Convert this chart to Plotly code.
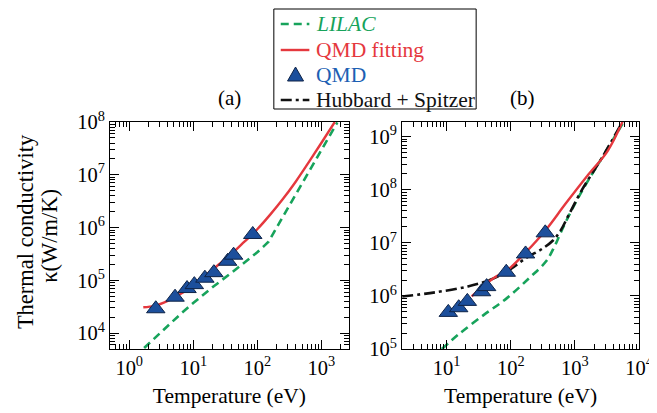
import plotly.graph_objects as go

# ---------------- data ----------------
# Panel (a)
qmd_a_T = [2.6, 5.2, 8.0, 10.4, 15.2, 21, 34.5, 42.7, 85]
qmd_a_K = [2.9e4, 4.8e4, 7.0e4, 8.3e4, 1.1e5, 1.4e5, 2.3e5, 3.0e5, 7.4e5]

fit_a_T = [1.66, 2.5, 4, 6.3, 10, 15.8, 25, 40, 63, 100, 158, 251, 398, 631, 1000, 1622]
fit_a_K = [3.1e4, 3.3e4, 4.1e4, 5.5e4, 8.1e4, 1.26e5, 2.0e5, 3.2e5, 5.4e5, 9.3e5,
           1.74e6, 3.47e6, 7.4e6, 1.7e7, 4.0e7, 1.0e8]

lilac_a_T = [1.71, 3.16, 6.31, 10, 19.95, 39.8, 63.1, 100, 125.9, 150, 316, 631, 1259, 1778]
lilac_a_K = [5.25e3, 1.07e4, 2.29e4, 3.72e4, 7.4e4, 1.4e5, 2.15e5, 3.4e5, 4.4e5,
             5.4e5, 2.6e6, 1.1e7, 4.6e7, 9.8e7]

# Panel (b)
qmd_b_T = [10.6, 15.4, 21, 35, 42, 85, 170, 345]
qmd_b_K = [4.9e5, 6.0e5, 7.9e5, 1.2e6, 1.5e6, 2.8e6, 6.2e6, 1.55e7]

fit_b_T = [24.5, 55, 87, 174, 355, 708, 1622, 3236, 5500]
fit_b_K = [9.8e5, 2.2e6, 3.0e6, 6.8e6, 1.78e7, 5.4e7, 1.95e8, 5.4e8, 1.9e9]

lilac_b_T = [8.4, 15.1, 38, 87, 195, 355, 479, 603, 794, 1288, 2570, 5750]
lilac_b_K = [1.0e5, 1.86e5, 4.4e5, 9.1e5, 2.19e6, 4.5e6, 8.5e6, 1.58e7, 3.16e7, 9.5e7, 3.8e8, 1.9e9]

hs_b_T = [2.02, 6.6, 21.4, 49, 87, 174, 316, 450, 603, 794, 1288, 2570, 5500]
hs_b_K = [9.8e5, 1.17e6, 1.51e6, 2.04e6, 2.9e6, 5.2e6, 7.9e6, 1.1e7, 1.74e7,
          3.3e7, 1.0e8, 3.8e8, 1.9e9]

# tick labels
xa_tickvals = [1, 10, 100, 1000]
xa_ticktext = ["10<sup>0</sup>", "10<sup>1</sup>", "10<sup>2</sup>", "10<sup>3</sup>"]
xb_tickvals = [10, 100, 1000, 10000]
xb_ticktext = ["10<sup>1</sup>", "10<sup>2</sup>", "10<sup>3</sup>", "10<sup>4</sup>"]
ya_tickvals = [1e4, 1e5, 1e6, 1e7, 1e8]
ya_ticktext = ["10<sup>4</sup>", "10<sup>5</sup>", "10<sup>6</sup>", "10<sup>7</sup>", "10<sup>8</sup>"]
yb_tickvals = [1e5, 1e6, 1e7, 1e8, 1e9]
yb_ticktext = ["10<sup>5</sup>", "10<sup>6</sup>", "10<sup>7</sup>", "10<sup>8</sup>", "10<sup>9</sup>"]

legend_labels = ["<i>LILAC</i>", "QMD fitting", "QMD", "Hubbard + Spitzer"]

# ---------------- styles ----------------
FONT = "Liberation Serif, Times New Roman, Times, serif"
GREEN = "#17a35b"
RED = "#e5383e"
BLUE_FILL = "#1c4f9c"
BLUE_EDGE = "#0e2347"
BLUE_TEXT = "#1d5fb3"
BLACK = "#111111"

GREEN_DASH = "8px,5px"
BLACK_DASH = "11px,4px,3px,4px"
green_line = dict(color=GREEN, width=2.6, dash=GREEN_DASH)
red_line = dict(color=RED, width=2.4)
black_line = dict(color=BLACK, width=2.6, dash=BLACK_DASH)
tri_marker = dict(symbol="triangle-up", size=16, color=BLUE_FILL,
                  line=dict(color=BLUE_EDGE, width=1))

# layout geometry (pixels)
W, H = 657, 413
ML, MR, MT, MB = 102, 19, 114, 72
PW, PH = W - ML - MR, H - MT - MB


def px2x(px):
    return (px - ML) / PW


def py2y(py):
    return (H - MB - py) / PH


fig = go.Figure()

# panel (a)
fig.add_trace(go.Scatter(x=lilac_a_T, y=lilac_a_K, mode="lines", line=green_line,
                         line_shape="linear", showlegend=False, xaxis="x", yaxis="y"))
fig.add_trace(go.Scatter(x=fit_a_T, y=fit_a_K, mode="lines", line=red_line,
                         line_shape="spline", showlegend=False, xaxis="x", yaxis="y"))
fig.add_trace(go.Scatter(x=qmd_a_T, y=qmd_a_K, mode="markers", marker=tri_marker,
                         showlegend=False, xaxis="x", yaxis="y"))

# panel (b)
fig.add_trace(go.Scatter(x=lilac_b_T, y=lilac_b_K, mode="lines", line=green_line,
                         line_shape="spline", showlegend=False, xaxis="x2", yaxis="y2"))
fig.add_trace(go.Scatter(x=hs_b_T, y=hs_b_K, mode="lines", line=black_line,
                         line_shape="spline", showlegend=False, xaxis="x2", yaxis="y2"))
fig.add_trace(go.Scatter(x=fit_b_T, y=fit_b_K, mode="lines", line=red_line,
                         line_shape="spline", showlegend=False, xaxis="x2", yaxis="y2"))
fig.add_trace(go.Scatter(x=qmd_b_T, y=qmd_b_K, mode="markers", marker=tri_marker,
                         showlegend=False, xaxis="x2", yaxis="y2"))

axis_common = dict(
    type="log", showline=True, linecolor="black", linewidth=1, mirror="allticks",
    ticks="inside", ticklen=9, tickwidth=1, tickcolor="black", showgrid=False,
    zeroline=False, tickmode="array",
    tickfont=dict(family=FONT, size=20.5, color="black"),
    minor=dict(ticks="inside", ticklen=5, tickwidth=1, tickcolor="black",
               dtick="D1", showgrid=False),
)

# ---- hand-built legend box (entries styled like the traces) ----
leg_rows = [16, 42, 67, 92]
leg_colors = [GREEN, RED, BLUE_TEXT, BLACK]
shapes = [
    dict(type="rect", xref="paper", yref="paper", x0=px2x(268), x1=px2x(473),
         y0=py2y(101), y1=py2y(1), line=dict(color="black", width=1),
         fillcolor="white", layer="above"),
    dict(type="line", xref="paper", yref="paper", x0=px2x(275), x1=px2x(304),
         y0=py2y(leg_rows[0]), y1=py2y(leg_rows[0]),
         line=dict(color=GREEN, width=2.6, dash=GREEN_DASH)),
    dict(type="line", xref="paper", yref="paper", x0=px2x(275), x1=px2x(304),
         y0=py2y(leg_rows[1]), y1=py2y(leg_rows[1]),
         line=dict(color=RED, width=2.4)),
    dict(type="path", xref="paper", yref="paper", xsizemode="pixel",
         ysizemode="pixel", xanchor=px2x(290), yanchor=py2y(leg_rows[2]),
         path="M -8,-6 L 8,-6 L 0,8 Z", fillcolor=BLUE_FILL,
         line=dict(color=BLUE_EDGE, width=1)),
    dict(type="line", xref="paper", yref="paper", x0=px2x(275), x1=px2x(304),
         y0=py2y(leg_rows[3]), y1=py2y(leg_rows[3]),
         line=dict(color=BLACK, width=2.6, dash=BLACK_DASH)),
]

annotations = [
    dict(text="(a)", x=px2x(223), y=py2y(90), xref="paper", yref="paper",
         showarrow=False, font=dict(family=FONT, size=21), xanchor="center",
         yanchor="middle"),
    dict(text="(b)", x=px2x(520), y=py2y(90), xref="paper", yref="paper",
         showarrow=False, font=dict(family=FONT, size=21), xanchor="center",
         yanchor="middle"),
    dict(text="Thermal conductivity", x=px2x(16), y=py2y(224),
         xref="paper", yref="paper", showarrow=False, textangle=-90,
         font=dict(family=FONT, size=22.5), xanchor="center", yanchor="middle"),
    dict(text="κ(W/m/K)", x=px2x(40), y=py2y(228),
         xref="paper", yref="paper", showarrow=False, textangle=-90,
         font=dict(family=FONT, size=22.5), xanchor="center", yanchor="middle"),
]
for lab, col, row in zip(legend_labels, leg_colors, leg_rows):
    annotations.append(dict(text=lab, x=px2x(309), y=py2y(row), xref="paper",
                            yref="paper", showarrow=False, xanchor="left",
                            yanchor="middle",
                            font=dict(family=FONT, size=21.5, color=col)))

fig.update_layout(
    width=W, height=H,
    paper_bgcolor="white", plot_bgcolor="white",
    margin=dict(l=ML, r=MR, t=MT, b=MB),
    font=dict(family=FONT, size=20, color="black"),
    showlegend=False,
    xaxis=dict(axis_common, domain=[0, px2x(344)], range=[-0.3, 3.43], anchor="y",
               tickvals=xa_tickvals, ticktext=xa_ticktext,
               title=dict(text="Temperature (eV)", font=dict(family=FONT, size=21.5),
                          standoff=10)),
    yaxis=dict(axis_common, domain=[0, 1], range=[3.7, 8.0], anchor="x",
               tickvals=ya_tickvals, ticktext=ya_ticktext),
    xaxis2=dict(axis_common, domain=[px2x(398), 1], range=[0.305, 4.0], anchor="y2",
                tickvals=xb_tickvals, ticktext=xb_ticktext,
                ticklabeloverflow="allow",
                title=dict(text="Temperature (eV)", font=dict(family=FONT, size=21.5),
                           standoff=10)),
    yaxis2=dict(axis_common, domain=[0, 1], range=[5.0, 9.28], anchor="x2",
                tickvals=yb_tickvals, ticktext=yb_ticktext),
    shapes=shapes,
    annotations=annotations,
)

fig.write_html("out.html")
